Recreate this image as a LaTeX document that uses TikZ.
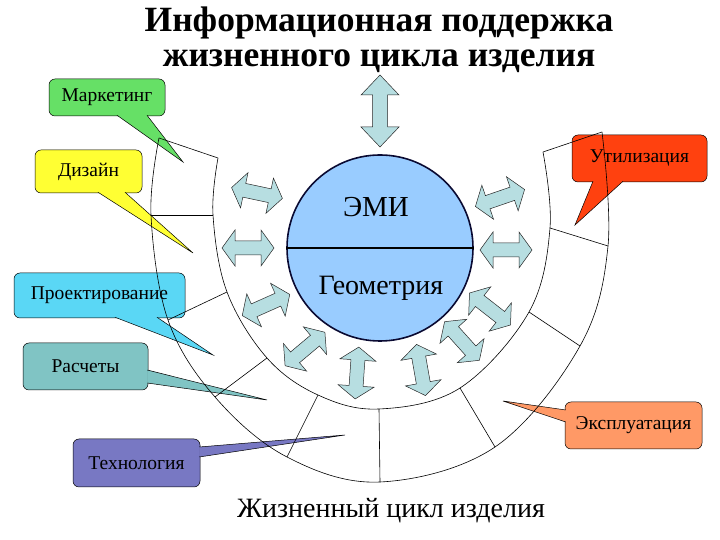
\documentclass[tikz,border=0pt]{standalone}
\usepackage{fontspec}
\setmainfont{Liberation Serif}
\definecolor{cMarket}{RGB}{102,224,102}
\definecolor{cDesign}{RGB}{255,255,51}
\definecolor{cProj}{RGB}{90,215,245}
\definecolor{cCalc}{RGB}{128,196,196}
\definecolor{cTech}{RGB}{120,120,195}
\definecolor{cUtil}{RGB}{255,65,15}
\definecolor{cExpl}{RGB}{255,153,102}
\definecolor{cArrow}{RGB}{183,222,225}
\definecolor{cCore}{RGB}{153,204,255}
\definecolor{cEdge}{RGB}{10,10,50}

\begin{document}
\begin{tikzpicture}
  [x=1pt,y=1pt,
   callout/.style={rectangle,rounded corners=6pt,draw=black,line width=0.5pt,font=\fontsize{19.5}{21}\selectfont},
   arrowbox/.style={fill=cArrow,draw=black!85,line width=0.5pt},
   ringline/.style={line width=0.6pt}]
  \useasboundingbox (0,0) rectangle (720,540);

  % Title
  \node (title) at (379,473) [anchor=base,align=center,inner sep=0pt,font=\bfseries\fontsize{35.5}{35.5}\selectfont]
    {Информационная поддержка\\жизненного цикла изделия};
  \node (life) at (391,22) [anchor=base,font=\fontsize{28}{28}\selectfont] {Жизненный цикл изделия};

  % Callouts
  \node[callout,fill=cMarket,minimum width=116,minimum height=37] (market) at (107,442.5) {Маркетинг};
  \node[callout,fill=cDesign,minimum width=107,minimum height=43] (design) at (88.5,368.5) {Дизайн};
  \node[callout,fill=cProj,minimum width=171,minimum height=45] (proj) at (99.5,244.5) {Проектирование};
  \node[callout,fill=cCalc,minimum width=125,minimum height=47] (calc) at (85.5,173.5) {Расчеты};
  \node[callout,fill=cTech,minimum width=127,minimum height=48] (tech) at (136.5,77) {Технология};
  \node[callout,fill=cUtil,minimum width=135,minimum height=47] (util) at (639.5,381.5) {Утилизация};
  \node[callout,fill=cExpl,minimum width=137,minimum height=47] (expl) at (633.5,114.5) {Эксплуатация};
  % tail bases and tips
  \coordinate (market_a) at ([xshift=10,yshift=1]market.south);
  \coordinate (market_b) at ([xshift=40,yshift=1]market.south);
  \coordinate (market_tip) at (183,378);
  \coordinate (design_a) at ([xshift=9.5,yshift=1]design.south);
  \coordinate (design_b) at ([xshift=36.5,yshift=1]design.south);
  \coordinate (design_tip) at (193,287);
  \coordinate (proj_a) at ([xshift=15.5,yshift=1]proj.south);
  \coordinate (proj_b) at ([xshift=57.5,yshift=1]proj.south);
  \coordinate (proj_tip) at (213,185);
  \coordinate (calc_a) at ([xshift=-1,yshift=-3.5]calc.east);
  \coordinate (calc_b) at ([xshift=-1,yshift=-16.5]calc.east);
  \coordinate (calc_tip) at (267,140);
  \coordinate (tech_a) at ([xshift=-1,yshift=16]tech.east);
  \coordinate (tech_b) at ([xshift=-1,yshift=6]tech.east);
  \coordinate (tech_tip) at (345,105);
  \coordinate (util_a) at ([xshift=-46.5,yshift=1]util.south);
  \coordinate (util_b) at ([xshift=-16.5,yshift=1]util.south);
  \coordinate (util_tip) at (575,315);
  \coordinate (expl_a) at ([xshift=1,yshift=15.5]expl.west);
  \coordinate (expl_b) at ([xshift=1,yshift=3.5]expl.west);
  \coordinate (expl_tip) at (503,139);

  \foreach \n/\c in {market/cMarket,design/cDesign,proj/cProj,calc/cCalc,
              tech/cTech,util/cUtil,expl/cExpl}
    \filldraw[fill=\c,line width=0.5pt] (\n_a) -- (\n_tip) -- (\n_b);

  % Life cycle ring
  \coordinate (in1) at (543,388);  \coordinate (out1) at (602,408);
  \coordinate (in2) at (550,312);  \coordinate (out2) at (608,294);
  \coordinate (in3) at (529,228);  \coordinate (out3) at (580,194);
  \coordinate (in4) at (460,152);  \coordinate (out4) at (495,93);
  \coordinate (in5) at (379,131);  \coordinate (out5) at (380,58);
  \coordinate (in6) at (318,145);  \coordinate (out6) at (287,83);
  \coordinate (in7) at (267,182);  \coordinate (out7) at (215,143);
  \coordinate (in8) at (227,248);  \coordinate (out8) at (168,220);
  \coordinate (in9) at (213,325);  \coordinate (out9) at (151,325);
  \coordinate (in10) at (218,382); \coordinate (out10) at (159,402);

  \draw[ringline] plot[smooth,tension=0.6] coordinates {(in1) (in2) (in3) (in4) (in5) (in6) (in7) (in8) (in9) (in10)};
  \draw[ringline] plot[smooth,tension=0.6] coordinates {(out1) (out2) (out3) (out4) (out5) (out6) (out7) (out8) (out9) (out10)};
  \foreach \k in {1,...,10}
    \draw[ringline] (in\k) -- (out\k);

  % Core
  \node[circle,draw=cEdge,fill=cCore,line width=1.6pt,minimum size=186] (core) at (380,292) {};
  \draw[line width=2.6pt] (core.west) -- (core.east);
  \node (emi) at (376,323) [anchor=base,font=\fontsize{29}{29}\selectfont] {ЭМИ};
  \node (geom) at (381,245) [anchor=base,font=\fontsize{28}{28}\selectfont] {Геометрия};

  % Arrows
  \draw[arrowbox,shift={(380,429)},rotate=90] (-36,0) -- (-16,19) -- (-16,7.5) -- (16,7.5) -- (16,19)
    -- (36,0) -- (16,-19) -- (16,-7.5) -- (-16,-7.5) -- (-16,-19) -- cycle;
  \foreach \x/\y/\a in {257/347/-12,248/292/0,266/235/24,305/191/40,357/167/86,
              421/170/100,462/199/-48,490/231/-38,506/290/0,500/342/19}
    \draw[arrowbox,shift={(\x,\y)},rotate=\a] (-26,0) -- (-13,18) -- (-13,7) -- (13,7) -- (13,18)
      -- (26,0) -- (13,-18) -- (13,-7) -- (-13,-7) -- (-13,-18) -- cycle;

\end{tikzpicture}
\end{document}
